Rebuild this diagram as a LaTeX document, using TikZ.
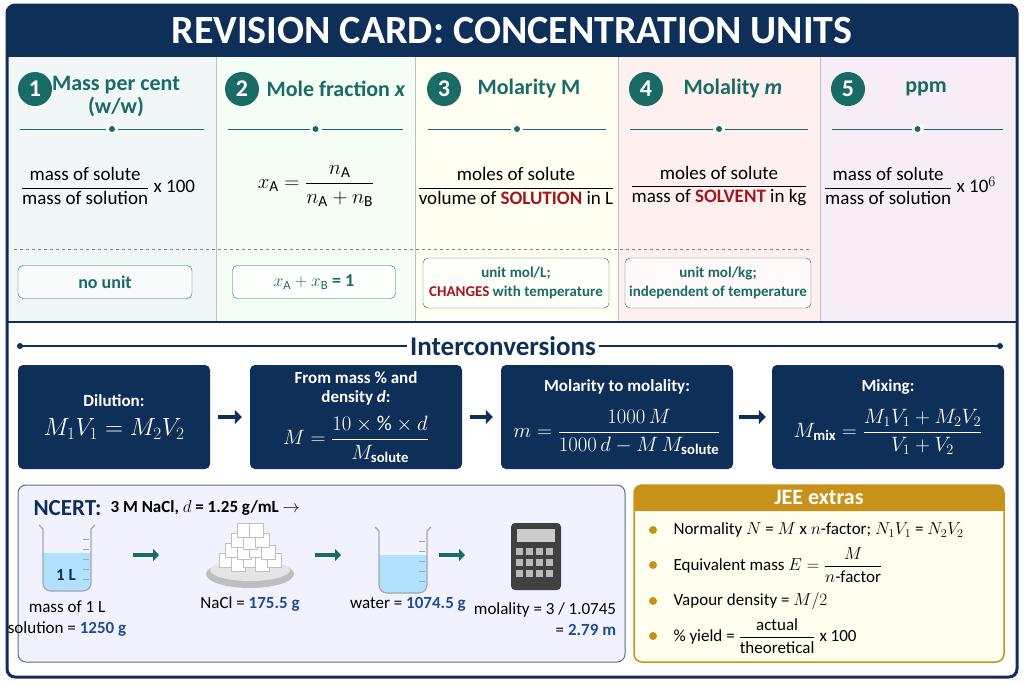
\documentclass[tikz,border=0pt]{standalone}
\usepackage{amsmath}
\usepackage{fontspec}
\setmainfont{Carlito}
\usetikzlibrary{positioning,arrows.meta}
\definecolor{navy}{HTML}{0E2F57}
\definecolor{teal}{HTML}{1A6B66}
\definecolor{redc}{HTML}{A31621}
\definecolor{bluec}{HTML}{1F4E8C}
\definecolor{gold}{HTML}{C8921A}
\tikzset{
  numdot/.style={circle, fill=teal, text=white, minimum size=34pt, inner sep=0pt, font=\fontsize{24}{24}\selectfont\bfseries},
  coltitle/.style={text=teal, align=center, font=\fontsize{22}{23}\selectfont\bfseries},
  formula/.style={align=center, font=\fontsize{19}{21}\selectfont},
  unitbox/.style={draw=teal, rounded corners=5pt, fill=white, fill opacity=0.6, text opacity=1, text=teal, align=center, font=\fontsize{18}{20}\selectfont\bfseries},
  convbox/.style={fill=navy, rounded corners=5pt, text=white, align=center, font=\fontsize{17}{19}\selectfont\bfseries},
  steplabel/.style={align=center, font=\fontsize{17}{21}\selectfont},
  jee/.style={anchor=west, font=\fontsize{17}{20}\selectfont},
  flow/.style={-{Triangle[length=6pt,width=12pt]}, line width=4pt, teal},
  nflow/.style={-{Triangle[length=7pt,width=14pt]}, line width=4pt, navy}
}
\newcommand{\red}[1]{\textcolor{redc}{\textbf{#1}}}
\newcommand{\val}[1]{\textcolor{bluec}{\textbf{#1}}}
\newcommand{\beaker}[2]{% x, y of top centre
  \fill[blue!40!cyan!30] (#1-24,#2+28) -- (#1+24,#2+28) -- (#1+24,#2+58) to[out=-90,in=0] (#1+16,#2+66) -- (#1-16,#2+66) to[out=180,in=-90] (#1-24,#2+58) -- cycle;
  \draw[gray!70, line width=1.2pt] (#1-28,#2) -- (#1-24,#2+4) -- (#1-24,#2+58) to[out=-90,in=180] (#1-16,#2+66) -- (#1+16,#2+66) to[out=0,in=-90] (#1+24,#2+58) -- (#1+24,#2+4) -- (#1+28,#2);
  \foreach \k in {14,24,34,44,54} \draw[gray!70] (#1+16,#2+\k) -- (#1+22,#2+\k);
}
\begin{document}
\begin{tikzpicture}[x=1pt,y=-1pt]
\useasboundingbox (0,0) rectangle (1024,683);
% frame and title
\fill[white] (0,0) rectangle (1024,683);
\draw[navy, line width=3pt, rounded corners=8pt] (7,5) rectangle (1017,677);
\fill[navy, rounded corners=8pt] (7,5) rectangle (1017,56);
\fill[navy] (7,40) rectangle (1017,57);
\node[text=white, font=\fontsize{40}{40}\selectfont\bfseries] (title) at (512,31) {REVISION CARD: CONCENTRATION UNITS};

% columns
\fill[teal!6] (9,57) rectangle (216,321);
\fill[teal!7!green!4] (216,57) rectangle (415,321);
\fill[orange!6!yellow!5] (415,57) rectangle (618,321);
\fill[red!6] (618,57) rectangle (820,321);
\fill[violet!7] (820,57) rectangle (1015,321);
\foreach \x in {216,415,618,820} \draw[gray!50] (\x,57) -- (\x,321);
\foreach \x/\n in {35/1,242/2,444/3,646/4,848/5} \node[numdot] (n\n) at (\x,89) {\n};
\node[coltitle] (t1) at (116,97) {Mass per cent\\(w/w)};
\node[coltitle] (t2) at (336,89) {Mole fraction \textit{x}};
\node[coltitle] (t3) at (529,89) {Molarity M};
\node[coltitle] (t4) at (733,89) {Molality \textit{m}};
\node[coltitle] (t5) at (926,89) {ppm};
\foreach \a/\b in {20/204,228/403,428/606,630/808,832/1003} {
  \draw[teal, line width=1pt] (\a,129) -- (\b,129);
  \fill[white] ({(\a+\b)/2-6},125) rectangle ({(\a+\b)/2+6},133);
  \fill[teal] ({(\a+\b)/2},129) circle (3pt);
}
\node[formula] (f1) at (108,186) {$\dfrac{\text{mass of solute}}{\text{mass of solution}}$ x 100};
\node[formula, font=\fontsize{22}{24}\selectfont] (f2) at (316,186) {$x_\mathrm{A}=\dfrac{n_\mathrm{A}}{n_\mathrm{A}+n_\mathrm{B}}$};
\node[formula] (f3) at (516,186) {$\dfrac{\text{moles of solute}}{\text{volume of \red{SOLUTION} in L}}$};
\node[formula] (f4) at (719,186) {$\dfrac{\text{moles of solute}}{\text{mass of \red{SOLVENT} in kg}}$};
\node[formula] (f5) at (910,186) {$\dfrac{\text{mass of solute}}{\text{mass of solution}}$ x 10$^6$};
\draw[gray, dashed] (14,249) -- (812,249);
\node[unitbox, minimum width=174pt, minimum height=33pt] (u1) at (105,282) {no unit};
\node[unitbox, minimum width=163pt, minimum height=33pt] (u2) at (314,282) {$x_\mathrm{A}+x_\mathrm{B}$ = 1};
\node[unitbox, minimum width=186pt, minimum height=50pt, font=\fontsize{15}{19}\selectfont\bfseries] (u3) at (516,283) {unit mol/L;\\\textcolor{redc}{CHANGES} with temperature};
\node[unitbox, minimum width=186pt, minimum height=50pt, font=\fontsize{15}{19}\selectfont\bfseries] (u4) at (718,283) {unit mol/kg;\\independent of temperature};
\draw[navy, line width=2.5pt] (7,322) -- (1017,322);

% interconversions
\node[text=navy, font=\fontsize{27}{27}\selectfont\bfseries] (inter) at (503,346) {Interconversions};
\draw[navy, line width=1.5pt] (20,346) -- (inter.west) (inter.east) -- (1000,346);
\fill[navy] (20,346) circle (3pt) (1000,346) circle (3pt);
\node[convbox, minimum width=192pt, minimum height=104pt] (c1) at (114,417) {Dilution:\\[10pt]{\fontsize{27}{27}\selectfont$M_1V_1=M_2V_2$}};
\node[convbox, minimum width=212pt, minimum height=104pt] (c2) at (356,417) {From mass \% and\\density \textit{d}:\\[10pt]{\fontsize{21}{21}\selectfont$M=\dfrac{10\times\%\times d}{M_\text{solute}}$}};
\node[convbox, minimum width=232pt, minimum height=104pt] (c3) at (617,417) {Molarity to molality:\\[14pt]{\fontsize{21}{21}\selectfont$m=\dfrac{1000\,M}{1000\,d-M\,M_\text{solute}}$}};
\node[convbox, minimum width=232pt, minimum height=104pt] (c4) at (888,417) {Mixing:\\[14pt]{\fontsize{21}{21}\selectfont$M_\text{mix}=\dfrac{M_1V_1+M_2V_2}{V_1+V_2}$}};
\draw[nflow] ([xshift=8pt]c1.east) -- ([xshift=-8pt]c2.west);
\draw[nflow] ([xshift=8pt]c2.east) -- ([xshift=-8pt]c3.west);
\draw[nflow] ([xshift=6pt]c3.east) -- ([xshift=-6pt]c4.west);

% NCERT example
\draw[navy!70, fill=blue!5, rounded corners=8pt, line width=1pt] (18,485) rectangle (625,662);
\node[anchor=west, text=navy, font=\fontsize{23}{23}\selectfont\bfseries] (ncert) at (30,508) {NCERT:};
\node[anchor=west, font=\fontsize{17}{17}\selectfont\bfseries, right=2pt of ncert] (given) {3 M NaCl, $d$ = 1.25 g/mL $\rightarrow$};
\beaker{67}{525}
\node[text=navy, font=\fontsize{17}{17}\selectfont\bfseries] (oneL) at (66,575) {1 L};
\beaker{403}{527}
% salt plate
\fill[gray!50] (250,574) ellipse (44pt and 14pt);
\fill[gray!20] (250,570) ellipse (40pt and 11pt);
\foreach \dx/\dy in {-24/-8,-12/-4,0/-8,12/-4,24/-8,-18/-18,-6/-16,6/-18,18/-16,-12/-28,0/-26,12/-28,-6/-38,6/-38} {
  \draw[gray!50, fill=white] (250+\dx-7,568+\dy-7) rectangle (250+\dx+7,568+\dy+7);
}
% calculator
\fill[black!75, rounded corners=4pt] (511,523) rectangle (561,590);
\fill[gray!40] (517,529) rectangle (555,542);
\foreach \i in {0,1,2,3} \foreach \j in {0,1,2} \fill[gray!55] (516+\i*10,548+\j*11) rectangle (523+\i*10,555+\j*11);
\draw[flow] (133,555) -- (159,555);
\draw[flow] (315,555) -- (341,555);
\draw[flow] (439,555) -- (465,555);
\node[steplabel] (s1) at (67,619) {mass of 1 L\\solution = \val{1250 g}};
\node[steplabel] (s2) at (250,604) {NaCl = \val{175.5 g}};
\node[steplabel] (s3) at (408,604) {water = \val{1074.5 g}};
\node[steplabel, align=right] (s4) at (545,619) {molality = 3 / 1.0745\\= \val{2.79 m}};

% JEE extras
\draw[gold, fill=orange!4!yellow!6, rounded corners=8pt, line width=1.5pt] (634,485) rectangle (1004,662);
\fill[gold, rounded corners=8pt] (634,485) rectangle (1004,511);
\fill[gold] (634,500) rectangle (1004,511);
\node[text=white, font=\fontsize{22}{22}\selectfont\bfseries] (jeet) at (819,497) {JEE extras};
\foreach \y in {530,565,601,636} \fill[gold] (653,\y) circle (4pt);
\node[jee] (j1) at (670,530) {Normality $N$ = $M$ x $n$-factor; $N_1V_1$ = $N_2V_2$};
\node[jee] (j2) at (670,565) {Equivalent mass $E=\dfrac{M}{n\text{-factor}}$};
\node[jee] (j3) at (670,601) {Vapour density = $M/2$};
\node[jee] (j4) at (670,636) {\% yield = $\dfrac{\text{actual}}{\text{theoretical}}$ x 100};
\end{tikzpicture}
\end{document}
